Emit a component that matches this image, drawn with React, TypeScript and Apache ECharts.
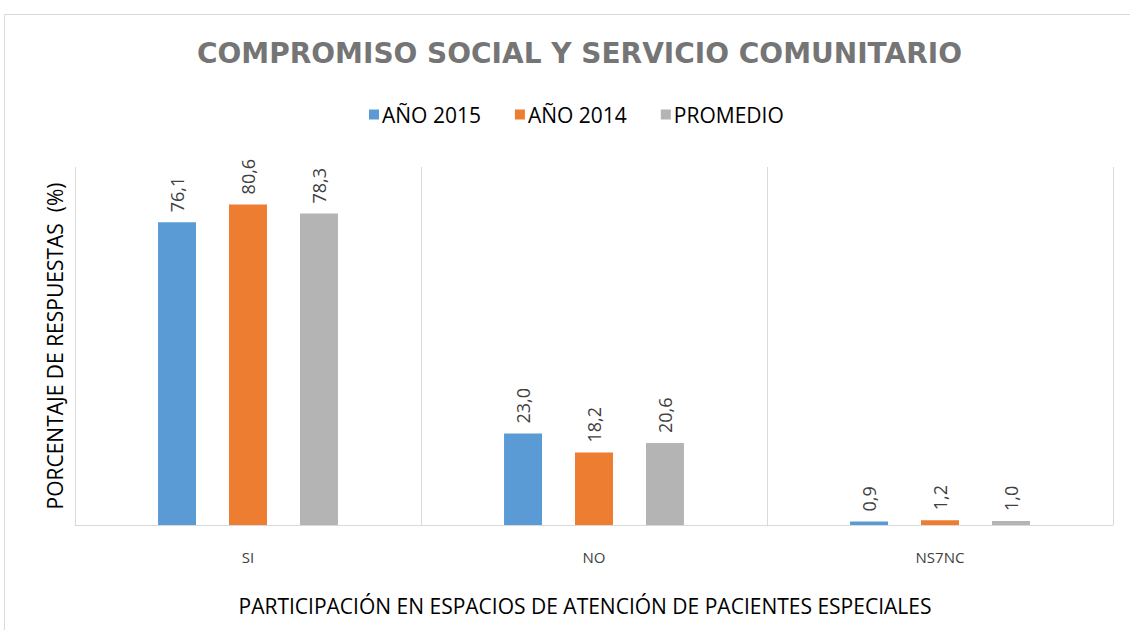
import React, { useEffect, useRef } from "react";
import * as echarts from "echarts";

const categories = ["SI", "NO", "NS7NC"];
const seriesNames = ["AÑO 2015", "AÑO 2014", "PROMEDIO"];
const values2015 = [76.1, 23.0, 0.9];
const values2014 = [80.6, 18.2, 1.2];
const valuesProm = [78.3, 20.6, 1.0];
const colors = ["#5b9bd5", "#ed7d31", "#b4b4b4"];

export default function App() {
  const ref = useRef<HTMLDivElement>(null);
  useEffect(() => {
    if (!ref.current) return;
    const chart = echarts.init(ref.current, null, { renderer: "svg" });
    const data = [values2015, values2014, valuesProm];
    chart.setOption({
      animation: false,
      backgroundColor: "#ffffff",
      graphic: [
        {
          type: "rect",
          shape: { x: 4.5, y: 14.5, width: 1140, height: 640 },
          style: { fill: "none", stroke: "#d9d9d9", lineWidth: 1 },
          silent: true,
        },
      ],
      title: {
        text: "COMPROMISO SOCIAL Y SERVICIO COMUNITARIO",
        left: 192,
        top: 34,
        textStyle: {
          fontFamily: "DejaVu Sans",
          fontWeight: "bold",
          fontSize: 28,
          color: "#757575",
        },
      },
      legend: {
        data: seriesNames,
        top: 99,
        left: 364,
        itemWidth: 10,
        itemHeight: 10,
        itemGap: 34,
        icon: "rect",
        textStyle: {
          fontFamily: "Open Sans",
          fontSize: 21,
          color: "#000000",
          padding: [0, 0, 0, -2],
        },
      },
      grid: { left: 75, right: 17, top: 167, bottom: 105, containLabel: false },
      xAxis: {
        type: "category",
        data: categories,
        name: "PARTICIPACIÓN EN ESPACIOS DE ATENCIÓN DE PACIENTES ESPECIALES",
        nameLocation: "middle",
        nameGap: 70,
        nameTextStyle: {
          fontFamily: "Open Sans",
          fontSize: 21,
          color: "#000000",
          padding: [0, 18, 0, 0],
        },
        axisLine: { lineStyle: { color: "#d9d9d9", width: 1 } },
        axisTick: { show: false },
        splitLine: { show: true, lineStyle: { color: "#d9d9d9", width: 1 } },
        axisLabel: {
          fontFamily: "Open Sans",
          fontSize: 15,
          color: "#404040",
          margin: 24,
        },
      },
      yAxis: {
        type: "value",
        min: 0,
        max: 90,
        name: "PORCENTAJE DE RESPUESTAS  (%)",
        nameLocation: "middle",
        nameGap: 10,
        nameTextStyle: { fontFamily: "Open Sans", fontSize: 21, color: "#000000" },
        axisLine: { show: false },
        axisTick: { show: false },
        axisLabel: { show: false },
        splitLine: { show: false },
      },
      series: seriesNames.map((n, i) => ({
        name: n,
        type: "bar",
        data: data[i],
        barGap: "87%",
        barCategoryGap: "48%",
        itemStyle: { color: colors[i] },
        label: {
          show: true,
          position: "top",
          rotate: 90,
          align: "left",
          verticalAlign: "middle",
          distance: 10,
          fontFamily: "Open Sans",
          fontSize: 18,
          color: "#404040",
          formatter: (p: any) => p.value.toFixed(1).replace(".", ","),
        },
      })),
    });
    return () => chart.dispose();
  }, []);
  return (
    <div
      ref={ref}
      style={{ position: "absolute", left: 0, top: 0, width: 1130, height: 630 }}
    />
  );
}
